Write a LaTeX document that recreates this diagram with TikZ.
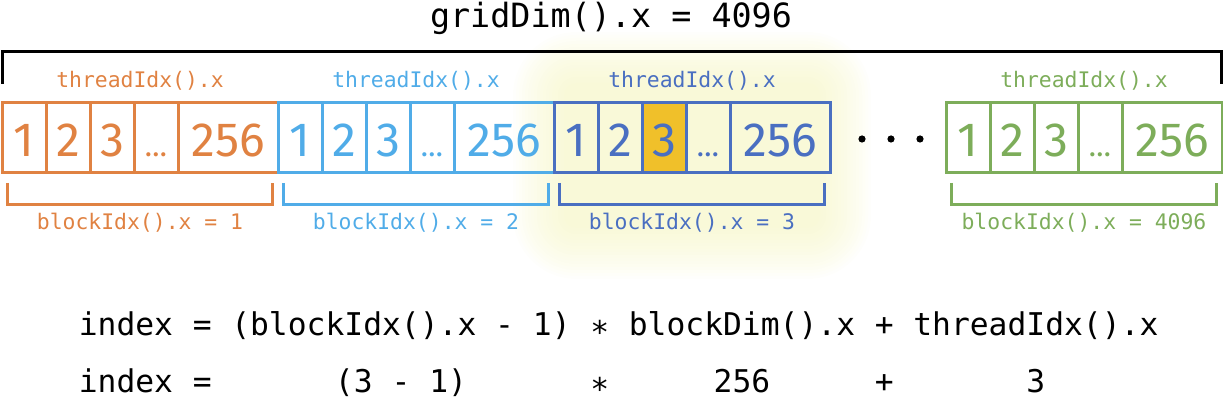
\documentclass[tikz,border=0pt]{standalone}
\usepackage{fontspec}
\setmonofont{DejaVu Sans Mono}
\newfontfamily\digitfont{Fira Sans}
\usepackage{xcolor}
\definecolor{blkorange}{HTML}{E08242}
\definecolor{blklight}{HTML}{50ACE8}
\definecolor{blkdark}{HTML}{4A6FC1}
\definecolor{blkgreen}{HTML}{7DAD5A}
\definecolor{hilite}{HTML}{F0C02A}
\definecolor{glowcolor}{HTML}{F5F5C0}
\usepackage{tikz}
\usetikzlibrary{positioning,calc,fit,backgrounds}
\newcommand\celldots{{\digitfont\fontsize{15}{18}\selectfont …}}
\tikzset{
    cell/.style={
        rectangle,
        draw=#1,
        text=#1,
        line width=1.5pt,
        minimum width=22pt,
        minimum height=35pt,
        inner sep=0pt,
        outer sep=0pt,
        text height=19pt,
        text depth=0pt,
        font=\digitfont\fontsize{24}{29}\selectfont,
    },
    widecell/.style={
        cell=#1,
        minimum width=50pt,
    },
    plain/.style={},
    hot/.style={fill=hilite},
    idxlabel/.style={
        text=#1,
        inner sep=0pt,
        font=\ttfamily\fontsize{10.7}{13}\selectfont,
    },
    bracket/.style={
        draw=#1,
        line width=1.5pt,
    },
    gridbracket/.style={
        draw=black,
        line width=1.5pt,
    },
    titletext/.style={
        inner sep=0pt,
        font=\ttfamily\fontsize{16.7}{20}\selectfont,
    },
    eqtok/.style={
        inner ysep=0pt,
        inner xsep=4.714pt,
        font=\ttfamily\fontsize{15.66}{19}\selectfont,
    },
    gapdot/.style={
        circle,
        fill=black,
        minimum size=3.6pt,
        inner sep=0pt,
    },
}

\begin{document}
\begin{tikzpicture}[x=0.5pt,y=-0.5pt]
    \useasboundingbox (0,0) rectangle (1223,405);

    % grid
    \node[titletext, anchor=base] (grid) at (611,28) {gridDim().x = 4096};
    \coordinate (gridL) at (2,84);
    \coordinate (gridR) at (1221,84);
    \draw[gridbracket] (gridL) -- ++(0,-32) -| (gridR);

    % blocks of threads
    \foreach \blk/\xs/\col/\third/\num in {ora/2/blkorange/plain/1, lbl/278/blklight/plain/2, dbl/554/blkdark/hot/3, grn/946/blkgreen/plain/4096} {
        \node[cell=\col, anchor=west] (\blk1) at (\xs,138) {1};
        \node[cell=\col, right=0pt of \blk1] (\blk2) {2};
        \node[cell=\col, \third, right=0pt of \blk2] (\blk3) {3};
        \node[cell=\col, right=0pt of \blk3] (\blk4) {\celldots};
        \node[widecell=\col, right=0pt of \blk4] (\blk5) {256};
        \node[fit=(\blk1)(\blk5), inner sep=0pt, outer sep=0pt] (\blk) {};
        \node[idxlabel=\col, anchor=base] (\blk-thread) at ($(\blk.north)+(0,-15)$) {threadIdx().x};
        \draw[bracket=\col] ($(\blk.south west)+(5,10)$) -- ++(0,22) -| ($(\blk.south east)+(-6,10)$);
        \node[idxlabel=\col, anchor=base] (\blk-block) at ($(\blk.south)+(0,57)$) {blockIdx().x = \num};
    }
    \foreach \x [count=\i] in {862,891,920}
        \node[gapdot] (gap\i) at (\x,139) {};

    \begin{scope}[on background layer]
        \foreach \d in {0,3,...,51}
            \fill[glowcolor, fill opacity=0.05, rounded corners=\d*0.5pt+6pt]
                ($(dbl.north west)+(10-\d,-20-\d)$) rectangle ($(dbl.south east)+(\d-10,55+\d)$);
    \end{scope}

    % index formula
    \node[eqtok, anchor=base west] (eqIndex) at (69,336) {index};
    \node[eqtok, base right=0pt of eqIndex] (eqEq) {=};
    \node[eqtok, base right=0pt of eqEq] (eqBlock) {(blockIdx().x - 1)};
    \node[eqtok, base right=0pt of eqBlock] (eqMul) {\raisebox{-0.25em}{*}};
    \node[eqtok, base right=0pt of eqMul] (eqDim) {blockDim().x};
    \node[eqtok, base right=0pt of eqDim] (eqPlus) {+};
    \node[eqtok, base right=0pt of eqPlus] (eqThread) {threadIdx().x};

    \node[eqtok, anchor=base west] (valIndex) at (69,393) {index};
    \node[eqtok, base right=0pt of valIndex] (valEq) {=};
    \node[eqtok, anchor=base] (valBlock) at (eqBlock.base |- valIndex.base) {(3 - 1)};
    \node[eqtok, anchor=base] (valMul) at (eqMul.base |- valIndex.base) {\raisebox{-0.25em}{*}};
    \node[eqtok, anchor=base] (valDim) at (eqDim.base |- valIndex.base) {256};
    \node[eqtok, anchor=base] (valPlus) at (eqPlus.base |- valIndex.base) {+};
    \node[eqtok, anchor=base] (valThread) at (eqThread.base |- valIndex.base) {3};
\end{tikzpicture}
\end{document}
